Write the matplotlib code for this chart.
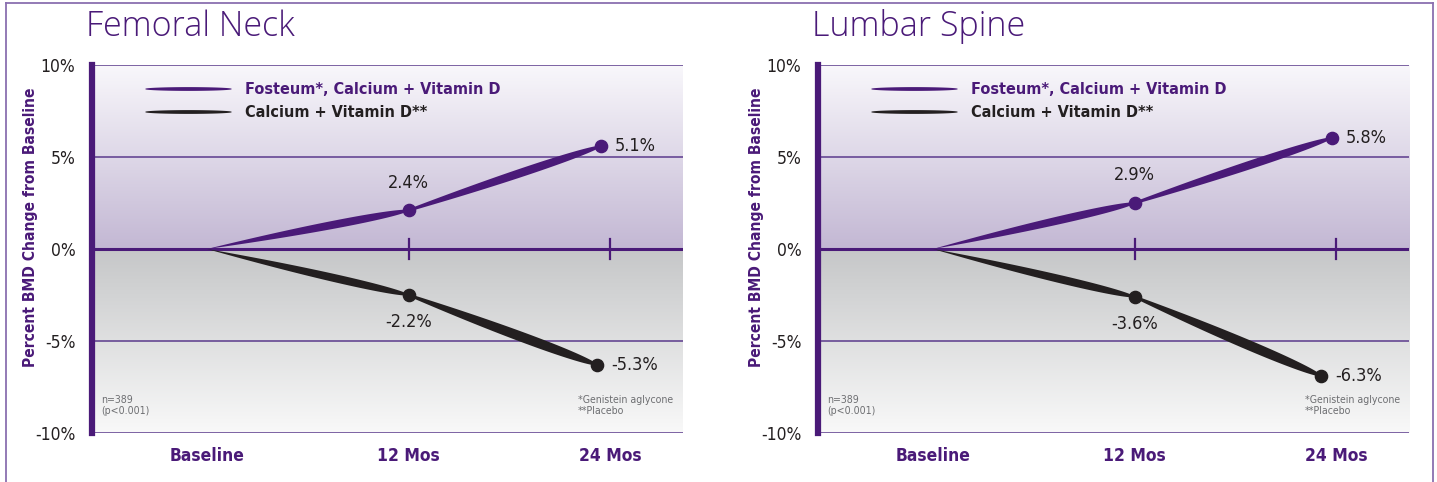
import numpy as np
import matplotlib
matplotlib.use('Agg')
import matplotlib.pyplot as plt
from matplotlib.lines import Line2D

# data
periods = ['Baseline', '12 Mos', '24 Mos']
titles = ['Femoral Neck', 'Lumbar Spine']
series_names = ['Fosteum*, Calcium + Vitamin D', 'Calcium + Vitamin D**']

fn_fosteum_x = [0, 1, 1.955]
fn_fosteum = [0, 2.1, 5.6]
fn_placebo_x = [0, 1, 1.935]
fn_placebo = [0, -2.5, -6.3]
fn_fosteum_lbl = ['2.4%', '5.1%']
fn_placebo_lbl = ['-2.2%', '-5.3%']

ls_fosteum_x = [0, 1, 1.98]
ls_fosteum = [0, 2.5, 6.05]
ls_placebo_x = [0, 1, 1.926]
ls_placebo = [0, -2.6, -6.9]
ls_fosteum_lbl = ['2.9%', '5.8%']
ls_placebo_lbl = ['-3.6%', '-6.3%']

yticks = [-10, -5, 0, 5, 10]
ytick_labels = ['-10%', '-5%', '0%', '5%', '10%']

PURPLE = '#4a1a78'
DARK = '#231f20'
GRAY = '#6d6e71'
FONT = dict(family='DejaVu Sans', stretch='condensed')

W, H = 1437, 482
fig = plt.figure(figsize=(W / 100, H / 100), dpi=100)


def px_axes(x0, y0, x1, y1):
    return fig.add_axes([x0 / W, 1 - y1 / H, (x1 - x0) / W, (y1 - y0) / H])


def stroke(p0, p1, w0, wmax, trans, flat=False):
    # tapered brush stroke between two display points
    t = np.linspace(0, 1, 80)
    if flat:
        prof = np.sin(np.pi * t) ** 0.4
    else:
        prof = t * np.sqrt(1 - t) / (2 / 3 * np.sqrt(1 / 3))
    w = np.clip(w0 * (1 - t) + (wmax - w0) * prof, 0, None)
    d = p1 - p0
    n = np.array([-d[1], d[0]]) / np.hypot(*d)
    c = p0 + np.outer(t, d)
    poly = np.vstack([c + np.outer(w / 2, n), (c - np.outer(w / 2, n))[::-1]])
    return trans.inverted().transform(poly)


def draw_series(ax, xs, ys, color, widths):
    pts = ax.transData.transform(np.column_stack([xs, ys]))
    for i in range(len(pts) - 1):
        w0 = 0 if i == 0 else 2.5
        poly = stroke(pts[i], pts[i + 1], w0, widths[i], ax.transData)
        ax.fill(poly[:, 0], poly[:, 1], color=color, lw=0, zorder=4)
    ax.plot(xs[1:], ys[1:], 'o', color=color, ms=8.8, zorder=5)


def panel(x0, title, fx, fos, px, pla, fos_lbl, pla_lbl):
    ax = px_axes(x0, 65, x0 + 591, 433)
    xl = (-0.57, 2.36)

    # background gradients
    ramp = np.linspace(0, 1, 200)[:, None, None]
    c_hi = np.array([0.975, 0.97, 0.985])
    c_lo = np.array([0.765, 0.72, 0.83])
    ax.imshow(c_lo + (c_hi - c_lo) * ramp, extent=[*xl, 0, 10], origin='lower',
              aspect='auto', zorder=0)
    g_hi = np.array([0.775, 0.78, 0.785])
    g_lo = np.array([0.975, 0.975, 0.975])
    ax.imshow(g_lo + (g_hi - g_lo) * ramp, extent=[*xl, -10, 0], origin='lower',
              aspect='auto', zorder=0)
    ax.set_xlim(*xl)
    ax.set_ylim(-10, 10)

    for y in [-10, -5, 5, 10]:
        ax.axhline(y, color='#5b3a8c', lw=1.1, zorder=1)
    ax.axhline(0, color=PURPLE, lw=2.2, zorder=2)
    for x in [1, 2]:
        ax.plot([x, x], [-0.55, 0.55], color=PURPLE, lw=1.6, zorder=2)

    for s in ['top', 'right', 'bottom']:
        ax.spines[s].set_visible(False)
    ax.spines['left'].set_color(PURPLE)
    ax.spines['left'].set_linewidth(4.5)
    ax.set_yticks(yticks)
    ax.set_yticklabels(ytick_labels, fontsize=12.5, color=DARK, **FONT)
    ax.tick_params(axis='y', length=0, pad=12)
    ax.set_xticks(range(len(periods)))
    ax.set_xticklabels(periods, fontsize=12.5, weight='bold', color=PURPLE, **FONT)
    ax.tick_params(axis='x', length=0, pad=10)
    ax.set_ylabel('Percent BMD Change from Baseline', fontsize=11.2,
                  weight='bold', color=PURPLE, **FONT)
    ax.yaxis.set_label_coords(-0.092, 0.56)

    draw_series(ax, fx, fos, PURPLE, [8, 10])
    draw_series(ax, px, pla, DARK, [8, 11.5])

    # value labels
    ax.text(fx[1], fos[1] + 1.5, fos_lbl[0], ha='center', va='center',
            fontsize=13, color=DARK, **FONT)
    ax.text(fx[2] + 0.065, fos[2], fos_lbl[1], ha='left', va='center',
            fontsize=13, color=DARK, **FONT)
    ax.text(px[1], pla[1] - 1.45, pla_lbl[0], ha='center', va='center',
            fontsize=13, color=DARK, **FONT)
    ax.text(px[2] + 0.07, pla[2], pla_lbl[1], ha='left', va='center',
            fontsize=13, color=DARK, **FONT)

    # legend strokes
    for i, (name, col) in enumerate(zip(series_names, [PURPLE, DARK])):
        yy = 89 + 23 * i
        p0 = np.array([x0 + 53, H - yy], float)
        p1 = np.array([x0 + 140, H - yy], float)
        poly = stroke(p0, p1, 0, 3.8, ax.transAxes, flat=True)
        ax.fill(poly[:, 0], poly[:, 1], color=col, lw=0, transform=ax.transAxes, zorder=4)
        ax.text(153 / 591, 1 - (yy - 65) / 368, name, transform=ax.transAxes,
                ha='left', va='center', fontsize=11.6, weight='bold', color=col, **FONT)

    ax.text(0.016, 0.045, 'n=389\n(p<0.001)', transform=ax.transAxes,
            fontsize=7.6, color=GRAY, va='bottom', linespacing=1.2, **FONT)

    fig.text((x0 - 6) / W, 1 - 27 / H, title, family=['Open Sans', 'DejaVu Sans'],
             weight=300, fontsize=24.5, color=PURPLE, va='center', ha='left')
    return ax


axL = panel(92, titles[0], fn_fosteum_x, fn_fosteum, fn_placebo_x, fn_placebo,
            fn_fosteum_lbl, fn_placebo_lbl)
axL.text((578 - 92) / 591, 0.045, '*Genistein aglycone\n**Placebo', transform=axL.transAxes,
         fontsize=7.6, color=GRAY, va='bottom', linespacing=1.2, **FONT)
axR = panel(818, titles[1], ls_fosteum_x, ls_fosteum, ls_placebo_x, ls_placebo,
            ls_fosteum_lbl, ls_placebo_lbl)
axR.text((1305 - 818) / 591, 0.045, '*Genistein aglycone\n**Placebo', transform=axR.transAxes,
         fontsize=7.6, color=GRAY, va='bottom', linespacing=1.2, **FONT)

# outer frame
fc = '#8a6fb0'
fig.add_artist(Line2D([6 / W, 1433 / W], [1 - 3 / H, 1 - 3 / H], color=fc, lw=1.3))
fig.add_artist(Line2D([6 / W, 6 / W], [0, 1 - 3 / H], color=fc, lw=1.3))
fig.add_artist(Line2D([1433 / W, 1433 / W], [0, 1 - 3 / H], color=fc, lw=1.3))

fig.savefig('out.png', dpi=100, facecolor='white')
